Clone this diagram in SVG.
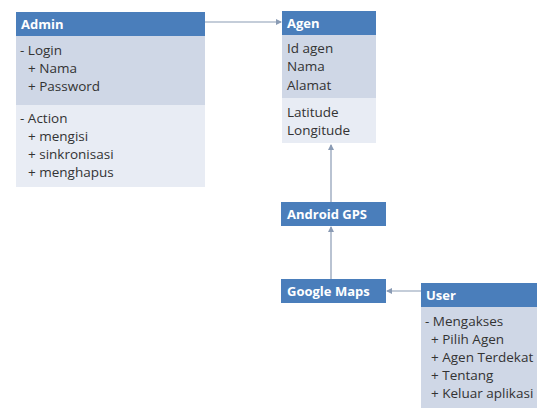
<svg xmlns="http://www.w3.org/2000/svg" width="537" height="408" viewBox="0 0 537 408">
<defs>
<style>
.hd{fill:#4a7ebb}
.s1{fill:#cfd7e6}
.s2{fill:#e8ecf4}
.ht{font-family:"Open Sans","Liberation Sans",sans-serif;font-size:13px;font-weight:bold;fill:#ffffff}
.bt{font-family:"Open Sans","Liberation Sans",sans-serif;font-size:13.5px;fill:#333333}
.ln{stroke:#8a9bb4;stroke-width:1.2;fill:none}
</style>
<marker id="ar" markerWidth="6" markerHeight="6" refX="5" refY="3" orient="auto" markerUnits="userSpaceOnUse">
<path d="M0,0 L6,3 L0,6 z" fill="#8a9bb4"/>
</marker>
</defs>
<rect width="537" height="408" fill="#ffffff"/>
<g id="connectors">
<line class="ln" x1="205" y1="22" x2="281" y2="22" marker-end="url(#ar)"/>
<line class="ln" x1="331" y1="202" x2="331" y2="145" marker-end="url(#ar)"/>
<line class="ln" x1="331" y1="279" x2="331" y2="227" marker-end="url(#ar)"/>
<line class="ln" x1="421" y1="291" x2="387" y2="291" marker-end="url(#ar)"/>
</g>
<g id="admin">
<rect class="hd" x="16" y="12" width="189" height="24"/>
<rect class="s1" x="16" y="36" width="189" height="69"/>
<rect class="s2" x="16" y="105" width="189" height="82"/>
<text class="ht" x="21" y="29">Admin</text>
<text class="bt" x="20" y="55">- Login</text>
<text class="bt" x="28" y="73">+ Nama</text>
<text class="bt" x="28" y="91">+ Password</text>
<text class="bt" x="20" y="123">- Action</text>
<text class="bt" x="28" y="141">+ mengisi</text>
<text class="bt" x="28" y="159">+ sinkronisasi</text>
<text class="bt" x="28" y="177">+ menghapus</text>
</g>
<g id="agen">
<rect class="hd" x="282" y="11" width="94" height="24"/>
<rect class="s1" x="282" y="35" width="94" height="63"/>
<rect class="s2" x="282" y="98" width="94" height="45"/>
<text class="ht" x="287" y="28">Agen</text>
<text class="bt" x="287" y="53">Id agen</text>
<text class="bt" x="287" y="71">Nama</text>
<text class="bt" x="287" y="90">Alamat</text>
<text class="bt" x="287" y="117">Latitude</text>
<text class="bt" x="287" y="135">Longitude</text>
</g>
<g id="android-gps">
<rect class="hd" x="281" y="202" width="105" height="24"/>
<text class="ht" x="287" y="219">Android GPS</text>
</g>
<g id="google-maps">
<rect class="hd" x="281" y="279" width="105" height="24"/>
<text class="ht" x="287" y="296">Google Maps</text>
</g>
<g id="user">
<rect class="hd" x="421" y="283" width="120" height="24"/>
<rect class="s1" x="421" y="307" width="120" height="101"/>
<text class="ht" x="426" y="300">User</text>
<text class="bt" x="425" y="326">- Mengakses</text>
<text class="bt" x="431" y="344">+ Pilih Agen</text>
<text class="bt" x="431" y="362">+ Agen Terdekat</text>
<text class="bt" x="431" y="380">+ Tentang</text>
<text class="bt" x="431" y="398">+ Keluar aplikasi</text>
</g>
</svg>
